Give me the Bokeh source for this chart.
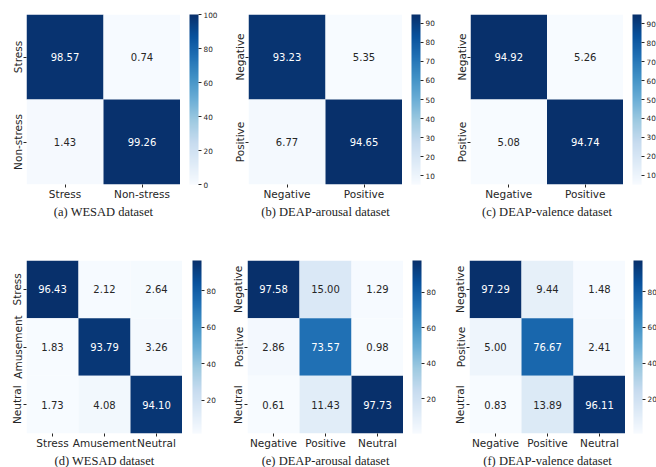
from bokeh.plotting import figure
from bokeh.models import (ColumnDataSource, LinearColorMapper, ColorBar,
                          FixedTicker, Title, FactorRange)
from bokeh.layouts import row, column
from bokeh.palettes import Blues256
from bokeh.core.properties import value
from bokeh.embed import file_html
from bokeh.resources import INLINE

# ---- data: confusion matrices (rows = true class, cols = predicted class), in % ----
wesad2_labels = ["Stress", "Non-stress"]
wesad2_values = [[98.57, 0.74],
                 [1.43, 99.26]]

arousal2_labels = ["Negative", "Positive"]
arousal2_values = [[93.23, 5.35],
                   [6.77, 94.65]]

valence2_labels = ["Negative", "Positive"]
valence2_values = [[94.92, 5.26],
                   [5.08, 94.74]]

wesad3_labels = ["Stress", "Amusement", "Neutral"]
wesad3_values = [[96.43, 2.12, 2.64],
                 [1.83, 93.79, 3.26],
                 [1.73, 4.08, 94.10]]

arousal3_labels = ["Negative", "Positive", "Neutral"]
arousal3_values = [[97.58, 15.00, 1.29],
                   [2.86, 73.57, 0.98],
                   [0.61, 11.43, 97.73]]

valence3_labels = ["Negative", "Positive", "Neutral"]
valence3_values = [[97.29, 9.44, 1.48],
                   [5.00, 76.67, 2.41],
                   [0.83, 13.89, 96.11]]

captions = ["(a) WESAD dataset", "(b) DEAP-arousal dataset", "(c) DEAP-valence dataset",
            "(d) WESAD dataset", "(e) DEAP-arousal dataset", "(f) DEAP-valence dataset"]

# colour scale limits per panel (None -> data min / max)
color_limits = [(0, 100), None, None, None, None, None]

colorbar_ticks = [[0, 20, 40, 60, 80, 100],
                  [10, 20, 30, 40, 50, 60, 70, 80, 90],
                  [10, 20, 30, 40, 50, 60, 70, 80, 90],
                  [20, 40, 60, 80],
                  [20, 40, 60, 80],
                  [20, 40, 60, 80]]

PALETTE = list(reversed(Blues256))  # light -> dark
DARK = "#262626"
SANS = "DejaVu Sans"


def luminance(hex_color):
    rgb = [int(hex_color[i:i + 2], 16) / 255 for i in (1, 3, 5)]
    lin = [c / 12.92 if c <= 0.03928 else ((c + 0.055) / 1.055) ** 2.4 for c in rgb]
    return 0.2126 * lin[0] + 0.7152 * lin[1] + 0.0722 * lin[2]


def panel(labels, matrix, caption, ticks, limits, geom):
    left, frame_w, gap, cb_w, top, frame_h, bottom = geom
    flat = [v for r in matrix for v in r]
    lo, hi = limits if limits else (min(flat), max(flat))
    mapper = LinearColorMapper(palette=PALETTE, low=lo, high=hi)

    xs, ys, vals, txt, tcol = [], [], [], [], []
    for i, true_lab in enumerate(labels):
        for j, pred_lab in enumerate(labels):
            v = matrix[i][j]
            xs.append(pred_lab)
            ys.append(true_lab)
            vals.append(v)
            txt.append(f"{v:.2f}")
            idx = min(255, max(0, int((v - lo) / (hi - lo) * 256)))
            tcol.append(DARK if luminance(PALETTE[idx]) > 0.408 else "white")
    src = ColumnDataSource(dict(x=xs, y=ys, v=vals, t=txt, tc=tcol))

    # heatmap
    p = figure(frame_width=frame_w, frame_height=frame_h,
               output_backend="svg", toolbar_location=None,
               x_range=FactorRange(*labels), y_range=FactorRange(*reversed(labels)),
               min_border_left=left, min_border_right=0,
               min_border_top=top, min_border_bottom=bottom)
    p.rect(x="x", y="y", width=1, height=1, source=src,
           fill_color={"field": "v", "transform": mapper}, line_color=None)
    p.text(x="x", y="y", text="t", source=src, text_align="center",
           text_baseline="middle", text_color="tc",
           text_font=value(SANS), text_font_size="10px")

    p.outline_line_color = None
    p.grid.grid_line_color = None
    for ax in (p.xaxis[0], p.yaxis[0]):
        ax.axis_line_color = None
        ax.major_tick_line_color = DARK
        ax.major_tick_out = 3
        ax.major_tick_in = 0
        ax.minor_tick_line_color = None
        ax.major_label_text_font = SANS
        ax.major_label_text_font_size = "10.5px"
        ax.major_label_text_color = DARK
        ax.major_label_standoff = 0
    p.yaxis[0].major_label_orientation = "parallel"

    p.add_layout(Title(text=caption, align="center", text_font="Liberation Serif",
                       text_font_size="12.5px", text_font_style="normal",
                       text_color="#222222", standoff=0), "below")

    # colour bar, in its own strip so it sits a small gap right of the heatmap
    c = figure(frame_width=gap, frame_height=frame_h,
               output_backend="svg", toolbar_location=None,
               x_axis_location=None, y_axis_location=None,
               min_border_left=0, min_border_right=cb_w,
               min_border_top=top, min_border_bottom=bottom)
    c.outline_line_color = None
    c.grid.grid_line_color = None
    cb = ColorBar(color_mapper=mapper, ticker=FixedTicker(ticks=ticks),
                  width=9, padding=0, margin=0, label_standoff=2,
                  major_tick_out=3, major_tick_in=0, major_tick_line_color=DARK,
                  minor_tick_line_color=None, bar_line_color=None,
                  border_line_color=None, background_fill_color=None,
                  major_label_text_font=SANS, major_label_text_font_size="7.3px",
                  major_label_text_color=DARK)
    c.add_layout(cb, "right")
    return row(p, c, spacing=0)


# (left border, frame width, gap to bar, bar strip width, top, frame height, bottom)
top_geoms = [(26, 154, 9, 31, 14, 170, 46),
             (28, 154, 9, 25, 14, 170, 46),
             (33, 153, 9, 25, 14, 170, 46)]
bottom_geoms = [(26, 156, 10, 28, 30, 173, 34),
                (27, 156, 9, 24, 30, 173, 34),
                (31, 156, 8, 25, 30, 173, 34)]

top_sets = [(wesad2_labels, wesad2_values), (arousal2_labels, arousal2_values),
            (valence2_labels, valence2_values)]
bottom_sets = [(wesad3_labels, wesad3_values), (arousal3_labels, arousal3_values),
               (valence3_labels, valence3_values)]

top_row = [panel(l, m, captions[k], colorbar_ticks[k], color_limits[k], top_geoms[k])
           for k, (l, m) in enumerate(top_sets)]
bottom_row = [panel(l, m, captions[k + 3], colorbar_ticks[k + 3], color_limits[k + 3],
                    bottom_geoms[k])
              for k, (l, m) in enumerate(bottom_sets)]

layout = column(row(*top_row, spacing=0), row(*bottom_row, spacing=0), spacing=0)

open("out.html", "w").write(file_html(layout, INLINE))
